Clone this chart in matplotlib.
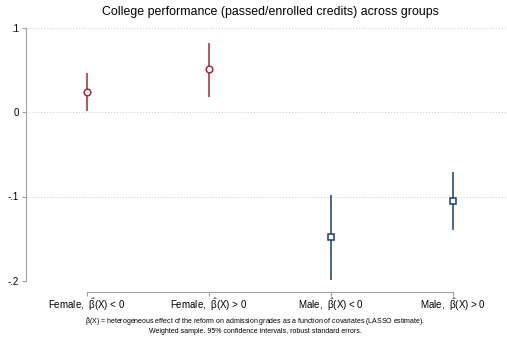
import matplotlib
matplotlib.use("Agg")
import matplotlib.pyplot as plt

plt.rcParams['font.family'] = ['Liberation Sans', 'DejaVu Sans']
plt.rcParams['mathtext.fontset'] = 'custom'
plt.rcParams['mathtext.rm'] = 'Liberation Sans'
plt.rcParams['mathtext.it'] = 'Liberation Sans'
plt.rcParams['mathtext.bf'] = 'Liberation Sans:bold'

# Group estimates with 95% confidence bounds
groups = ["Female,  $\\hat{\\beta}$(X) < 0", "Female,  $\\hat{\\beta}$(X) > 0",
          "Male,  $\\hat{\\beta}$(X) < 0", "Male,  $\\hat{\\beta}$(X) > 0"]
estimates = [0.0237, 0.0504, -0.1483, -0.1059]
ci_low = [0.0015, 0.0174, -0.1994, -0.1399]
ci_high = [0.0464, 0.0818, -0.0979, -0.0715]
markers = ["o", "o", "s", "s"]
female_col = "#9e2a3a"
male_col = "#1c3f6e"
colors = [female_col, female_col, male_col, male_col]
yticks = [0.1, 0, -0.1, -0.2]
ytick_labels = [".1", "0", "-.1", "-.2"]

W, H = 507, 341
fig = plt.figure(figsize=(W / 100, H / 100), dpi=100)
fig.patch.set_facecolor("white")
ax = fig.add_axes([26 / W, (H - 281) / H, (W - 26) / W, (281 - 27.5) / H])

xs = [1, 2, 3, 4]
for x, est, lo, hi, m, c in zip(xs, estimates, ci_low, ci_high, markers, colors):
    ax.vlines(x, lo, hi, color=c, lw=1.3, alpha=0.85, zorder=2)
    ax.plot(x, est, marker=m, ms=4.8, mfc="white", mec=c, mew=1.1, zorder=3)

ax.set_xlim(0.5, 1 + (W - 87) / 122)
ax.set_ylim(-0.2, 0.1)
ax.set_yticks(yticks)
ax.set_yticklabels(ytick_labels)
ax.set_xticks(xs)
ax.set_xticklabels(groups)

for y in yticks:
    ax.axhline(y, color="#c8c8c8", lw=0.7, ls=(0, (1, 2)), zorder=0)

for s in ["top", "right"]:
    ax.spines[s].set_visible(False)
ax.spines["left"].set_color("#a0a0a0")
ax.spines["left"].set_linewidth(0.8)
ax.spines["bottom"].set_color("#a0a0a0")
ax.spines["bottom"].set_linewidth(0.8)
ax.spines["bottom"].set_position(("outward", 8))
ax.spines["bottom"].set_bounds(1, 4)

ax.tick_params(axis="y", length=3, width=0.8, color="#a0a0a0", labelsize=7, pad=2)
ax.tick_params(axis="x", length=3, width=0.8, color="#a0a0a0", labelsize=7, pad=0)

fig.text(270 / W, 1 - 12 / H, "College performance (passed/enrolled credits) across groups",
         ha="center", va="center", fontsize=8.9)
fig.text(255 / W, 1 - 322 / H,
         "$\\hat{\\beta}$(X) = heterogeneous effect of the reform on admission grades as a function of covariates (LASSO estimate).",
         ha="center", va="center", fontsize=5.0)
fig.text(255 / W, 1 - 331.5 / H,
         "Weighted sample. 95% confidence intervals, robust standard errors.",
         ha="center", va="center", fontsize=5.0)

fig.savefig("out.png", dpi=100, facecolor="white")
